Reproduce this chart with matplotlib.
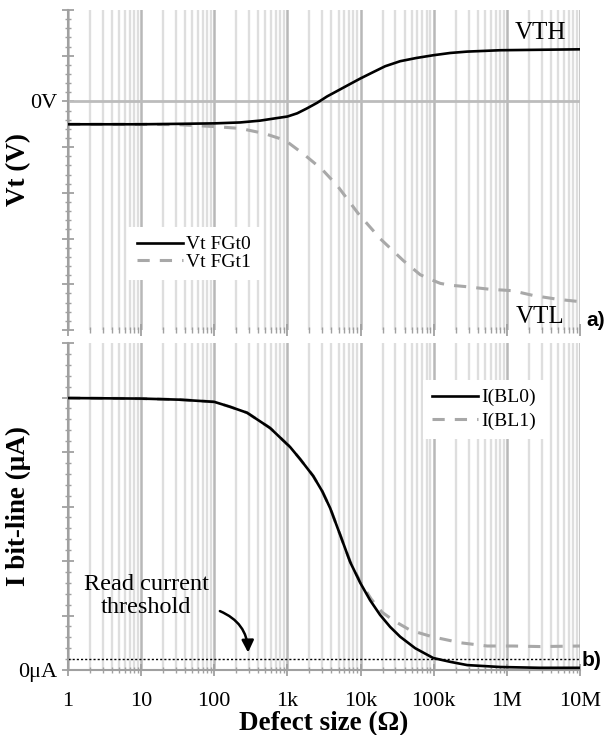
import numpy as np
import matplotlib
matplotlib.use("Agg")
import matplotlib.pyplot as plt
from matplotlib.ticker import LogLocator, NullFormatter, FixedLocator, MultipleLocator

# ---------------- data ----------------
# Top panel: threshold voltage (arbitrary units, 0 = 0V)
vt0_r = [1, 10, 34, 100, 225, 424, 680, 1000, 1360, 1860, 2550, 3490, 4940, 6980, 9890,
         14400, 21700, 34800, 57700, 98400, 168000, 287000, 813000, 2860000, 10000000]
vt0_v = [-0.50, -0.50, -0.49, -0.48, -0.46, -0.42, -0.37, -0.33, -0.26, -0.15, -0.03, 0.11,
         0.24, 0.37, 0.50, 0.63, 0.77, 0.88, 0.95, 1.01, 1.06, 1.09, 1.12, 1.13, 1.14]

vt1_r = [1, 10, 34, 100, 225, 480, 930, 1690, 2990, 4790, 9270, 18500, 38300, 65300, 89500,
         123000, 168000, 270000, 593000, 1190000, 2370000, 5050000, 10000000]
vt1_v = [-0.50, -0.50, -0.51, -0.55, -0.59, -0.70, -0.85, -1.16, -1.49, -1.84, -2.45, -3.0,
         -3.48, -3.79, -3.89, -3.98, -4.02, -4.05, -4.11, -4.14, -4.25, -4.33, -4.38]

# Bottom panel: bit-line current (arbitrary units, 0 = 0uA)
ibl0_r = [1, 10, 34, 100, 164, 281, 580, 1090, 1490, 2250, 2990, 3840, 5260, 7210, 9890,
          13500, 18500, 25400, 34800, 55800, 98400, 168000, 287000, 813000, 2860000, 10000000]
ibl0_v = [4.99, 4.98, 4.96, 4.92, 4.83, 4.72, 4.44, 4.09, 3.87, 3.56, 3.28, 2.97, 2.48, 1.98,
          1.60, 1.28, 1.01, 0.79, 0.61, 0.40, 0.22, 0.15, 0.09, 0.055, 0.04, 0.04]

ibl1_r = [1, 10, 34, 100, 164, 281, 580, 1090, 1490, 2250, 2990, 3840, 5260, 7210, 9890,
          14000, 19700, 28800, 47800, 95300, 231000, 540000, 1220000, 2860000, 10000000]
ibl1_v = [4.99, 4.98, 4.96, 4.92, 4.83, 4.72, 4.44, 4.09, 3.87, 3.56, 3.28, 2.97, 2.48, 1.99,
          1.62, 1.30, 1.06, 0.90, 0.73, 0.61, 0.50, 0.44, 0.44, 0.43, 0.44]

read_threshold = 0.2
x_ticks = [1, 10, 100, 1e3, 1e4, 1e5, 1e6, 1e7]
x_tick_labels = ["1", "10", "100", "1k", "10k", "100k", "1M", "10M"]

# ---------------- style ----------------
SERIF = ["Liberation Serif", "DejaVu Serif"]
SANS = ["Liberation Sans", "DejaVu Sans"]
plt.rcParams["font.family"] = SERIF
W, H = 608, 735
fig = plt.figure(figsize=(W / 100, H / 100), dpi=100)

ax1 = fig.add_axes([68 / W, (H - 330) / H, 512 / W, 320 / H])
ax2 = fig.add_axes([68 / W, (H - 670) / H, 512 / W, 327 / H])

GRID_MIN = "#dedede"
GRID_MAJ = "#b8b8b8"
SPINE = "#a0a0a0"
DASH_C = "#a8a8a8"

for ax in (ax1, ax2):
    ax.set_xscale("log")
    ax.set_xlim(1, 1e7)
    ax.xaxis.set_major_locator(FixedLocator(x_ticks))
    ax.xaxis.set_minor_locator(LogLocator(base=10, subs=np.arange(2, 10), numticks=20))
    ax.xaxis.set_minor_formatter(NullFormatter())
    ax.grid(True, which="minor", axis="x", color=GRID_MIN, lw=1.7, zorder=0)
    ax.grid(True, which="major", axis="x", color=GRID_MAJ, lw=1.8, zorder=0)
    ax.set_axisbelow(True)
    for s in ("top", "right"):
        ax.spines[s].set_visible(False)
    ax.spines["left"].set_color(SPINE)
    ax.spines["left"].set_linewidth(1.5)
    ax.spines["bottom"].set_color(SPINE)
    ax.spines["bottom"].set_linewidth(1.5)
    ax.yaxis.set_minor_locator(MultipleLocator(0.2))
    ax.tick_params(axis="both", which="major", direction="inout", length=8, width=1.3,
                   color=SPINE, labelsize=16, labelcolor="black")
    ax.tick_params(axis="both", which="minor", direction="inout", length=5, width=1.0, color=SPINE)
    ax.tick_params(axis="x", which="major", pad=12)

# ---- top panel ----
ax1.spines["bottom"].set_visible(False)
ax1.set_ylim(-5, 2)
ax1.set_yticks([-5, -4, -3, -2, -1, 0, 1, 2])
ax1.set_yticklabels(["", "", "", "", "", "0V", "", ""])
ax1.tick_params(axis="x", labelbottom=False)
ax1.axhline(0, color="#bcbcbc", lw=2.0, zorder=1)
l0, = ax1.plot(vt1_r, vt1_v, color=DASH_C, lw=2.2, dashes=(4, 3.3), zorder=3, label="Vt FGt1")
l1, = ax1.plot(vt0_r, vt0_v, color="black", lw=1.9, zorder=4, label="Vt FGt0")
leg1 = ax1.legend(handles=[l1, l0], loc="upper left", bbox_to_anchor=(0.117, 0.322),
                  borderaxespad=0, frameon=True, fancybox=False, fontsize=14,
                  handlelength=2.4, handletextpad=0.15, labelspacing=0.0, borderpad=0.45)
leg1.get_frame().set_edgecolor("none")
leg1.get_frame().set_facecolor("white")
leg1.get_frame().set_alpha(1)
ax1.text(2.86e6, 1.49, "VTH", fontsize=18, ha="center", va="center")
ax1.text(2.86e6, -4.72, "VTL", fontsize=18, ha="center", va="center")
ax1.set_ylabel("Vt (V)", fontsize=19.5, fontweight="bold")
ax1.yaxis.set_label_coords(-0.072, 0.5)

# ---- bottom panel ----
ax2.set_ylim(0, 6)
ax2.set_yticks([0, 1, 2, 3, 4, 5, 6])
ax2.set_yticklabels(["0μA", "", "", "", "", "", ""])
ax2.axhline(read_threshold, color="black", lw=1.0, ls=(0, (1.5, 1.5)), zorder=2)
m1, = ax2.plot(ibl1_r, ibl1_v, color=DASH_C, lw=2.2, dashes=(4, 3.3), zorder=3, label="I(BL1)")
m0, = ax2.plot(ibl0_r, ibl0_v, color="black", lw=1.9, zorder=4, label="I(BL0)")
leg2 = ax2.legend(handles=[m0, m1], loc="upper left", bbox_to_anchor=(0.693, 0.887),
                  borderaxespad=0, frameon=True, fancybox=False, fontsize=14,
                  handlelength=2.4, handletextpad=0.15, labelspacing=0.3, borderpad=0.45)
leg2.get_frame().set_edgecolor("none")
leg2.get_frame().set_facecolor("white")
leg2.get_frame().set_alpha(1)
ax2.set_xticklabels(x_tick_labels)
ax2.set_xlabel("Defect size (Ω)", fontsize=19.5, fontweight="bold", labelpad=0)
ax2.set_ylabel("I bit-line (μA)", fontsize=19.5, fontweight="bold")
ax2.yaxis.set_label_coords(-0.072, 0.5)

ax2.text(11.7, 1.36, "Read current\nthreshold", fontsize=17.5, ha="center", va="center",
         linespacing=1.1)
ax2.annotate("", xy=(290, 0.27), xytext=(110, 1.1),
             arrowprops=dict(arrowstyle="-|>", color="black", lw=1.8,
                             connectionstyle="arc3,rad=-0.35", mutation_scale=18))

fig.text(596 / W, 1 - 321 / H, "a)", fontsize=15, fontweight="bold",
         family=SANS, ha="center", va="center")
fig.text(592 / W, 1 - 660 / H, "b)", fontsize=15, fontweight="bold",
         family=SANS, ha="center", va="center")

fig.savefig("out.png", dpi=100)
